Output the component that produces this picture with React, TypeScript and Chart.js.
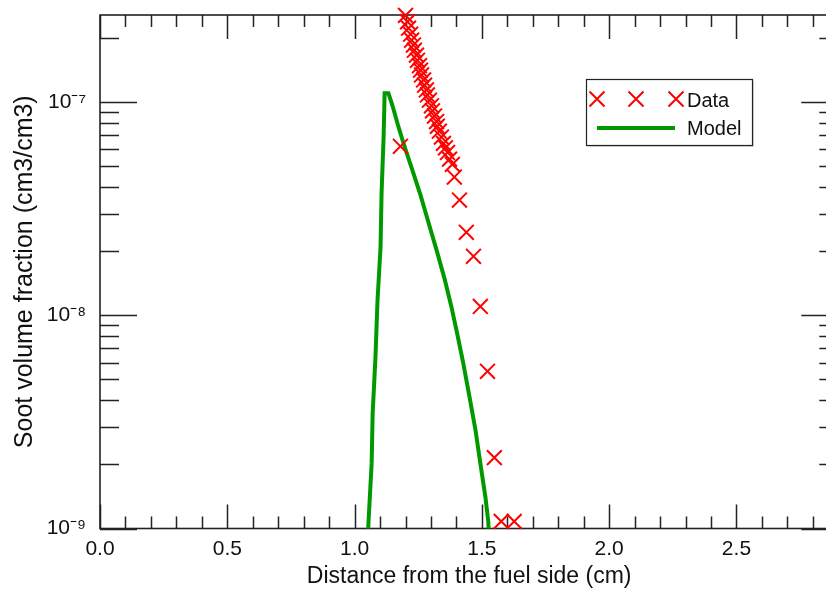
import React, { useEffect, useRef } from 'react';
import { Chart, registerables } from 'chart.js';

Chart.register(...registerables);

// ---- axis ranges & ticks ----
const X_MIN = 0;
const X_MAX = 2.9;
const X_STEP = 0.5;
const Y_MIN = 1e-9;
const Y_MAX = 2.56e-7;
const yTickValues = [1e-9, 1e-8, 1e-7];
const yTickLabels = ['10⁻⁹', '10⁻⁸', '10⁻⁷'];

// ---- series ----
const dataX = [
  1.180, 1.200, 1.208, 1.212, 1.220, 1.224, 1.231, 1.235, 1.243, 1.247, 1.255, 1.259, 1.263,
  1.271, 1.275, 1.282, 1.286, 1.294, 1.302, 1.306, 1.314, 1.322, 1.325, 1.333, 1.341, 1.349,
  1.357, 1.365, 1.373, 1.384, 1.392, 1.412, 1.439, 1.467, 1.494, 1.522, 1.549, 1.576, 1.627,
];
const dataY = [
  6.2e-8, 2.55e-7, 2.38e-7, 2.22e-7, 2.08e-7, 1.95e-7, 1.85e-7, 1.75e-7, 1.66e-7, 1.57e-7, 1.48e-7,
  1.41e-7, 1.34e-7, 1.27e-7, 1.2e-7, 1.14e-7, 1.08e-7, 1.02e-7, 9.6e-8, 9.1e-8, 8.6e-8, 8.1e-8,
  7.7e-8, 7.3e-8, 6.85e-8, 6.4e-8, 6.1e-8, 5.8e-8, 5.4e-8, 5.1e-8, 4.45e-8, 3.47e-8, 2.45e-8,
  1.89e-8, 1.1e-8, 5.46e-9, 2.15e-9, 1.08e-9, 1.08e-9,
];

const modelX = [
  1.050, 1.055, 1.067, 1.071, 1.082, 1.090, 1.102, 1.106, 1.114, 1.118, 1.133, 1.149, 1.173,
  1.196, 1.227, 1.259, 1.290, 1.322, 1.353, 1.380, 1.404, 1.427, 1.451, 1.475, 1.494, 1.514,
  1.525, 1.529,
];
const modelY = [
  8e-10, 1.09e-9, 2.02e-9, 3.47e-9, 6.35e-9, 1.17e-8, 2.09e-8, 3.74e-8, 6.85e-8, 1.1e-7, 1.1e-7,
  9.6e-8, 7.6e-8, 6.2e-8, 4.8e-8, 3.66e-8, 2.73e-8, 2.02e-8, 1.49e-8, 1.1e-8, 8.1e-9, 5.95e-9,
  4.17e-9, 2.89e-9, 2.02e-9, 1.4e-9, 1.08e-9, 8.5e-10,
];

const SERIES_DATA = 'Data';
const SERIES_MODEL = 'Model';
const X_TITLE = 'Distance from the fuel side (cm)';
const Y_TITLE = 'Soot volume fraction (cm3/cm3)';

const FONT = "'Liberation Sans', Arial, Helvetica, sans-serif";
const AXIS_COLOR = '#222';
const TEXT_COLOR = '#111';
const RED = '#ff0000';
const GREEN = '#009a00';

const frameTicks = {
  id: 'frameTicks',
  beforeDatasetsDraw(chart: any) {
    const { ctx, chartArea: a, scales } = chart;
    const x = scales.x;
    const y = scales.y;
    ctx.save();
    ctx.strokeStyle = AXIS_COLOR;
    ctx.lineWidth = 1.5;
    ctx.beginPath();
    const n = Math.round((X_MAX - X_MIN) * 10);
    for (let i = 0; i <= n; i++) {
      const v = X_MIN + i / 10;
      const px = Math.round(x.getPixelForValue(v)) + 0.5;
      const len = i % 5 === 0 ? 24 : 12;
      ctx.moveTo(px, a.bottom);
      ctx.lineTo(px, a.bottom - len);
      ctx.moveTo(px, a.top);
      ctx.lineTo(px, a.top + len);
    }
    for (let e = -10; e <= -6; e++) {
      for (let m = 1; m <= 9; m++) {
        const v = m * Math.pow(10, e);
        if (v < Y_MIN * 0.999 || v > Y_MAX) continue;
        const py = Math.round(y.getPixelForValue(v)) + 0.5;
        const len = m === 1 ? 37 : 19;
        ctx.moveTo(a.left, py);
        ctx.lineTo(a.left + len, py);
        ctx.moveTo(a.right, py);
        ctx.lineTo(a.right - len, py);
      }
    }
    ctx.stroke();
    ctx.lineWidth = 1.6;
    ctx.strokeRect(a.left, a.top, a.right - a.left, a.bottom - a.top);
    ctx.restore();
  },
};

const customLegend = {
  id: 'customLegend',
  afterDraw(chart: any) {
    const { ctx, chartArea: a } = chart;
    const ds = chart.data.datasets;
    const bx = a.left + 486;
    const by = a.top + 64;
    const bw = 166;
    const bh = 66;
    ctx.save();
    ctx.fillStyle = 'rgba(0,0,0,0.15)';
    ctx.fillRect(bx + 2, by + 2, bw, bh);
    ctx.fillStyle = '#fff';
    ctx.fillRect(bx, by, bw, bh);
    ctx.strokeStyle = AXIS_COLOR;
    ctx.lineWidth = 1.2;
    ctx.strokeRect(bx + 0.5, by + 0.5, bw, bh);

    // Data row
    const r1 = by + 20;
    ctx.strokeStyle = ds[0].pointBorderColor;
    ctx.lineWidth = ds[0].pointBorderWidth;
    const h = 7.5;
    [bx + 11, bx + 50, bx + 90].forEach((cx) => {
      ctx.beginPath();
      ctx.moveTo(cx - h, r1 - h);
      ctx.lineTo(cx + h, r1 + h);
      ctx.moveTo(cx + h, r1 - h);
      ctx.lineTo(cx - h, r1 + h);
      ctx.stroke();
    });
    // Model row
    const r2 = by + 49;
    ctx.strokeStyle = ds[1].borderColor;
    ctx.lineWidth = ds[1].borderWidth;
    ctx.beginPath();
    ctx.moveTo(bx + 11, r2);
    ctx.lineTo(bx + 89, r2);
    ctx.stroke();

    ctx.fillStyle = TEXT_COLOR;
    ctx.font = `20px ${FONT}`;
    ctx.textBaseline = 'middle';
    ctx.textAlign = 'left';
    ctx.fillText(ds[0].label, bx + 101, r1 + 2);
    ctx.fillText(ds[1].label, bx + 101, r2 + 1);
    ctx.restore();
  },
};

export default function App() {
  const ref = useRef<HTMLCanvasElement>(null);

  useEffect(() => {
    document.body.style.margin = '0';
    const canvas = ref.current;
    if (!canvas) return;
    const chart = new Chart(canvas, {
      type: 'scatter',
      data: {
        datasets: [
          {
            label: SERIES_DATA,
            data: dataX.map((x, i) => ({ x, y: dataY[i] })),
            showLine: false,
            pointStyle: 'crossRot',
            pointRadius: 10.5,
            pointHoverRadius: 10.5,
            pointBorderColor: RED,
            pointBackgroundColor: RED,
            pointBorderWidth: 2,
            borderColor: RED,
            clip: false,
            order: 1,
          } as any,
          {
            label: SERIES_MODEL,
            data: modelX.map((x, i) => ({ x, y: modelY[i] })),
            showLine: true,
            pointRadius: 0,
            borderColor: GREEN,
            backgroundColor: GREEN,
            borderWidth: 4,
            tension: 0,
            fill: false,
            clip: 0,
            order: 2,
          } as any,
        ],
      },
      options: {
        responsive: false,
        maintainAspectRatio: false,
        devicePixelRatio: 1,
        animation: false,
        events: [],
        layout: { autoPadding: false, padding: { top: 15, right: 1.7, left: 0, bottom: 0 } },
        plugins: {
          legend: { display: false },
          tooltip: { enabled: false },
        },
        scales: {
          x: {
            type: 'linear',
            min: X_MIN,
            max: X_MAX,
            grid: { display: false, drawTicks: false },
            border: { display: false },
            ticks: {
              stepSize: X_STEP,
              includeBounds: false,
              padding: 8,
              maxRotation: 0,
              autoSkip: false,
              color: TEXT_COLOR,
              font: { family: FONT, size: 21 },
              callback: (v: any) => Number(v).toFixed(1),
            },
            title: {
              display: true,
              text: X_TITLE,
              color: TEXT_COLOR,
              font: { family: FONT, size: 23 },
              padding: { top: 0, bottom: 2 },
            },
            afterFit: (s: any) => {
              s.height = 63.5;
              s.paddingLeft = 0;
              s.paddingRight = 0;
              s.paddingTop = 0;
              s.paddingBottom = 0;
            },
          },
          y: {
            type: 'logarithmic',
            min: Y_MIN,
            max: Y_MAX,
            grid: { display: false, drawTicks: false },
            border: { display: false },
            afterBuildTicks: (s: any) => {
              s.ticks = yTickValues.map((value) => ({ value }));
            },
            ticks: {
              padding: 14,
              autoSkip: false,
              color: TEXT_COLOR,
              font: { family: FONT, size: 21 },
              callback: (v: any) => {
                const i = yTickValues.findIndex((t) => Math.abs(t - v) / t < 1e-6);
                return i >= 0 ? yTickLabels[i] : '';
              },
            },
            title: {
              display: true,
              text: Y_TITLE,
              color: TEXT_COLOR,
              font: { family: FONT, size: 25 },
              padding: { top: 10, bottom: 0 },
            },
            afterFit: (s: any) => {
              s.width = 100;
              s.paddingLeft = 0;
              s.paddingRight = 0;
              s.paddingTop = 0;
              s.paddingBottom = 0;
            },
          },
        },
      } as any,
      plugins: [frameTicks, customLegend],
    });
    return () => chart.destroy();
  }, []);

  return (
    <div
      style={{
        position: 'fixed',
        left: 0,
        top: 0,
        width: 826,
        height: 592,
        overflow: 'hidden',
        background: '#fff',
      }}
    >
      <canvas ref={ref} width={840} height={592} style={{ width: 840, height: 592, display: 'block' }} />
    </div>
  );
}
